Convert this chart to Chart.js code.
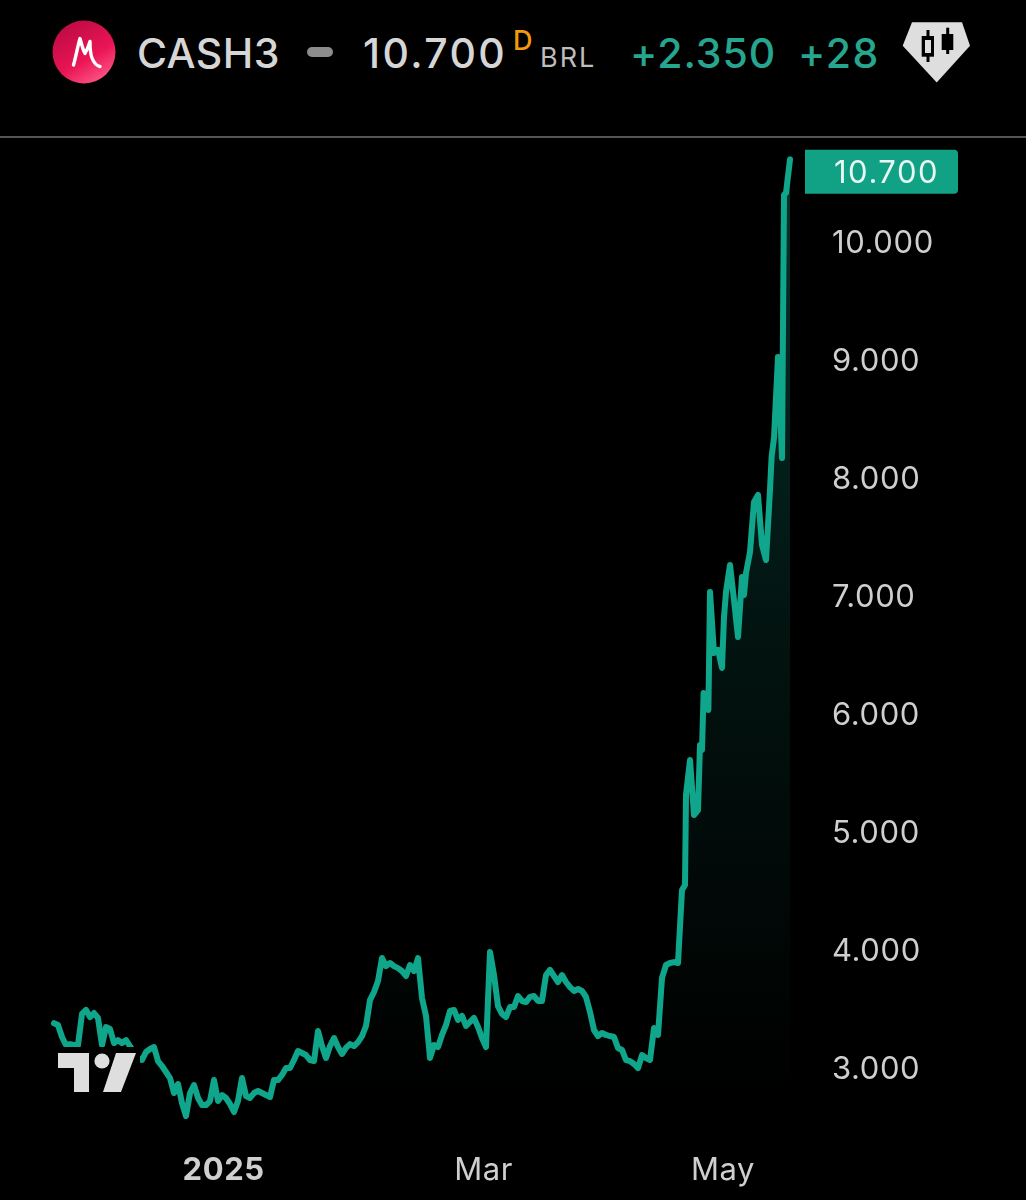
<!DOCTYPE html>
<html>
<head>
<meta charset="utf-8">
<title>CASH3</title>
<script src="https://cdn.jsdelivr.net/npm/chart.js@4"></script>
<style>
    html, body { margin: 0; padding: 0; background: #000; }
    #page { position: relative; width: 1026px; height: 1200px; overflow: hidden; background: #000; font-family: Inter, sans-serif; }
    #page span, #page svg, #page canvas, #page div { position: absolute; }
    .hd { top: 28px; font-size: 41px; line-height: 50px; font-weight: 500; color: #d6d6d6; white-space: nowrap; }
    .up { color: #26a68e; letter-spacing: 1px; }
    #rule { left: 0; top: 136px; width: 1026px; height: 2px; background: #555; }
    #chartBox { left: 0; top: 138px; width: 1026px; height: 1062px; }
</style>
</head>
<body>
<div id="page">
    <svg style="left:52px;top:20px" width="64" height="64" viewBox="0 0 64 64">
        <defs>
            <linearGradient id="mg" x1="0.2" y1="0" x2="0.8" y2="1">
                <stop offset="0" stop-color="#b90a44"/>
                <stop offset="0.6" stop-color="#ea1554"/>
                <stop offset="1" stop-color="#ff5c8a"/>
            </linearGradient>
        </defs>
        <circle cx="32" cy="32" r="31.5" fill="url(#mg)"/>
        <path d="M21.5 45 C24 36 26 25 28 18.5 C29.5 24 31 30 33 33.5 C35 30 37 25 38 21.5 C38 28 38.5 34 40 38 C42 43 45 46 48 46.5" fill="none" stroke="#fff" stroke-width="3.4" stroke-linecap="round" stroke-linejoin="round"/>
    </svg>
    <span class="hd" style="left:137px;letter-spacing:0.4px">CASH3</span>
    <div style="left:307px;top:47px;width:26px;height:10px;border-radius:5px;background:#8c8c8c"></div>
    <span class="hd" style="left:363px;letter-spacing:2.4px">10.700</span>
    <span class="hd" style="left:513px;top:25px;font-size:27px;line-height:32px;color:#f59a0c">D</span>
    <span class="hd" style="left:540px;top:43px;font-size:27px;line-height:30px;font-weight:400;color:#bdbdbd;letter-spacing:2px">BRL</span>
    <span class="hd up" style="left:630px">+2.350</span>
    <span class="hd up" style="left:798px;letter-spacing:1.5px">+28</span>
    <svg style="left:902px;top:22px" width="68" height="61" viewBox="0 0 68 61">
        <path d="M10 0.3 L60 0.3 L68 23.7 L34.7 60.5 L0.7 23.7 Z" fill="#dedede"/>
        <g fill="#000">
            <rect x="24.5" y="8" width="3" height="32"/><rect x="19.7" y="14" width="12.3" height="20.7"/>
            <rect x="44.2" y="5.7" width="3" height="26.3"/><rect x="39.7" y="12" width="11.6" height="16"/>
        </g>
        <rect x="23" y="18" width="6" height="13" fill="#dedede"/>
    </svg>
    <div id="rule"></div>
    <div id="chartBox"><canvas id="cashChart" width="1026" height="1062"></canvas></div>
    <svg style="left:54px;top:1047px" width="86" height="50" viewBox="54 1047 86 50">
        <rect x="54" y="1047" width="86" height="50" fill="#000"/>
        <path d="M58 1053 H89 V1092 H74 V1068 H58 Z" fill="#dedede"/>
        <circle cx="102" cy="1061" r="7.6" fill="#dedede"/>
        <path d="M116 1053 H136 L121 1092 H103 Z" fill="#dedede"/>
    </svg>
</div>
<script>
// CASH3 close
var closes = [
    3380, 3364, 3263, 3195, 3203, 3195, 3195, 3458, 3492, 3432, 3466, 3424, 3195, 3347, 3331, 3212, 3237, 3212, 3237, 3186,
    3136, 3085, 3068, 3136, 3161, 3178, 3059, 3017, 2966, 2915, 2788, 2864, 2703, 2593, 2788, 2856, 2746, 2686, 2686, 2720,
    2898, 2720, 2771, 2746, 2695, 2627, 2720, 2915, 2763, 2746, 2788, 2805, 2788, 2771, 2754, 2898, 2898, 2941, 3000, 3000,
    3068, 3144, 3127, 3110, 3068, 3059, 3314, 3186, 3085, 3186, 3254, 3178, 3119, 3170, 3203, 3186, 3220, 3271, 3356, 3576,
    3644, 3737, 3932, 3864, 3890, 3864, 3847, 3822, 3780, 3873, 3822, 3932, 3593, 3441, 3085, 3195, 3178, 3280, 3364, 3483,
    3492, 3407, 3441, 3356, 3390, 3424, 3347, 3254, 3178, 3983, 3788, 3525, 3458, 3432, 3517, 3517, 3610, 3568, 3559, 3602,
    3610, 3568, 3568, 3788, 3831, 3780, 3729, 3788, 3729, 3686, 3653, 3670, 3653, 3602, 3475, 3322, 3271, 3297, 3280, 3271,
    3263, 3170, 3153, 3068, 3059, 3034, 3000, 3110, 3085, 3068, 3339, 3280, 3763, 3873, 3890, 3898, 3890, 4508, 5314, 5610,
    5144, 5186, 5695, 6161, 7034, 6517, 6543, 6390, 7034, 7263, 6966, 6653, 7161, 7195, 7373, 7797, 7856, 7432, 7305, 7899,
    8339, 9026, 8170, 10416, 10700
];
// extra closes in the steep part, between the regular steps
var extraSessions = [157.75, 161.5, 162.4, 163.6, 167.5, 172.5, 179.4, 182.5];
var extraCloses = [4551, 5737, 6178, 6034, 6822, 7009, 8178, 10399];
var priceTicks = [3000, 4000, 5000, 6000, 7000, 8000, 9000, 10000];
var dateTicks = [42.4, 107.4, 167.25];
var dateLabels = ["2025", "Mar", "May"];
var lineColor = "#10a68b";
var labelColor = "#cfcfcf";
var fontName = "Inter, sans-serif";

function formatPrice(v) {
    return String(v).replace(/\B(?=(\d{3})+$)/g, ".");
}

var points = closes.map(function(v, i) {
    return { x: i, y: v };
});
extraSessions.forEach(function(s, i) {
    points.push({ x: s, y: extraCloses[i] });
});
points.sort(function(a, b) {
    return a.x - b.x;
});

var lastPriceLabel = {
    id: "lastPriceLabel",
    beforeDraw: function(chart) {
        chart.ctx.letterSpacing = "0.6px";
    },
    afterDraw: function(chart) {
        var ctx = chart.ctx;
        var last = closes[closes.length - 1];
        var y = chart.scales.y.getPixelForValue(last);
        ctx.save();
        ctx.letterSpacing = "1.5px";
        ctx.fillStyle = "#11a286";
        ctx.beginPath();
        ctx.roundRect(805, y - 9.5, 153, 44, [0, 4, 4, 0]);
        ctx.fill();
        ctx.fillStyle = "#e9f6f3";
        ctx.font = "400 31px " + fontName;
        ctx.textBaseline = "middle";
        ctx.fillText(formatPrice(last), 834, y + 14);
        ctx.restore();
    }
};

var cashChart = new Chart(document.getElementById("cashChart"), {
    type: "line",
    data: {
        datasets: [
            {
                data: points,
                borderColor: lineColor,
                borderWidth: 6,
                borderJoinStyle: "round",
                borderCapStyle: "round",
                pointRadius: 0,
                tension: 0,
                clip: false,
                fill: "origin",
                backgroundColor: function(context) {
                    var g = context.chart.ctx.createLinearGradient(0, 0, 0, 960);
                    g.addColorStop(0, "rgba(18, 165, 138, 0.32)");
                    g.addColorStop(0.5, "rgba(18, 165, 138, 0.12)");
                    g.addColorStop(1, "rgba(18, 165, 138, 0)");
                    return g;
                },
            },
        ],
    },
    options: {
        responsive: false,
        animation: false,
        layout: { padding: { left: 54 } },
        plugins: {
            legend: { display: false },
            tooltip: { enabled: false },
        },
        scales: {
            x: {
                type: "linear",
                min: 0,
                max: closes.length - 1,
                grid: { display: false, drawTicks: false },
                border: { display: false },
                afterFit: function(scale) { scale.height = 60; },
                afterBuildTicks: function(scale) {
                    scale.ticks = dateTicks.map(function(v) { return { value: v }; });
                },
                ticks: {
                    autoSkip: false,
                    maxRotation: 0,
                    padding: 12,
                    color: labelColor,
                    font: function(ctx) {
                        return { family: fontName, size: 31, weight: ctx.index === 0 ? "700" : "400" };
                    },
                    callback: function(value, index) { return dateLabels[index]; },
                },
            },
            y: {
                position: "right",
                min: 2390,
                max: 10881,
                grid: { display: false, drawTicks: false },
                border: { display: false },
                afterFit: function(scale) {
                    scale.width = 236;
                    scale.paddingTop = 0;
                    scale.paddingBottom = 0;
                },
                afterBuildTicks: function(scale) {
                    scale.ticks = priceTicks.map(function(v) { return { value: v }; });
                },
                ticks: {
                    padding: 42,
                    labelOffset: 2,
                    color: labelColor,
                    font: { family: fontName, size: 31 },
                    callback: function(value) { return formatPrice(value); },
                },
            },
        },
    },
    plugins: [lastPriceLabel],
});
</script>
</body>
</html>
